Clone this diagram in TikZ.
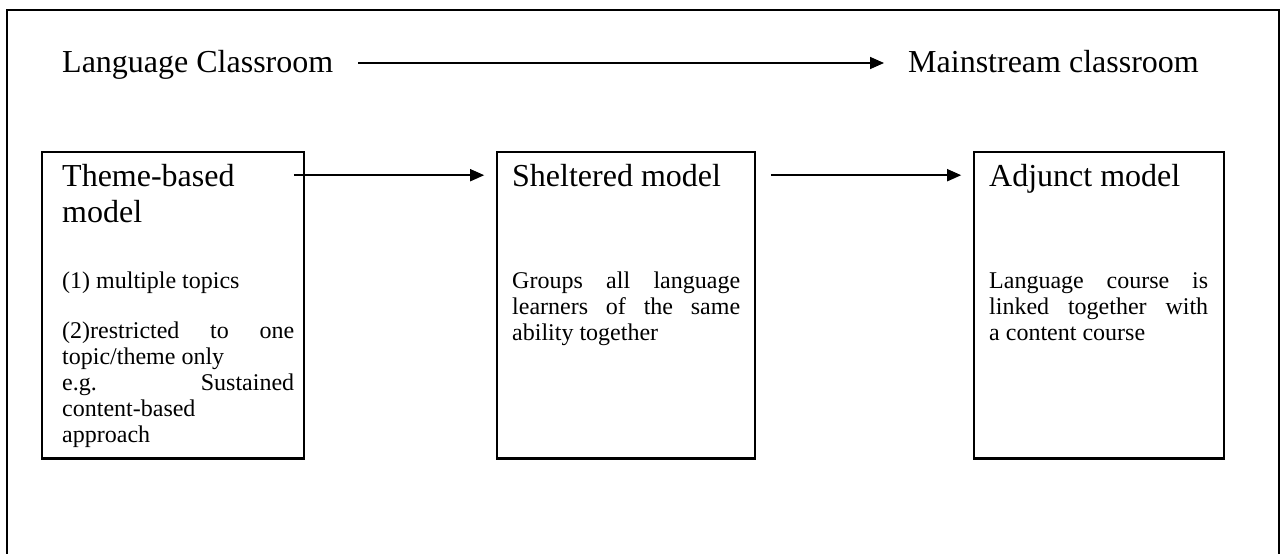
\documentclass[tikz,border=0pt]{standalone}
\usepackage{fontspec}
\setmainfont{Liberation Serif}
\usetikzlibrary{arrows.meta}
\newcommand\bigtxt{\fontsize{32}{36}\selectfont}
\newcommand\smtxt{\fontsize{24}{26}\selectfont}
\newcommand\lineJ[1]{\hbox to \hsize{#1}}
\newcommand\lineL[1]{\hbox{#1}}
\begin{document}
\begin{tikzpicture}[x=1pt,y=-1pt,
  tbox/.style={draw, line width=1.6pt, minimum height=306pt, inner sep=0pt},
  txt/.style={anchor=base west, inner sep=0pt},
  bigt/.style={anchor=base west, inner sep=0pt, font=\bigtxt, text height=21pt, text depth=3pt},
  arr/.style={line width=1.6pt, -{Triangle[length=14pt,width=12pt]}},
  frame/.style={line width=1.8pt}]
\useasboundingbox (0,0) rectangle (1285,554);
% outer frame
\draw[frame] (7,570) -- (7,10) -- (1279,10) -- (1279,570);
% top row
\node[bigt] (lc) at (62,72) {Language Classroom};
\node[bigt] (mc) at (908,72) {Mainstream classroom};
\draw[arr] ([xshift=25pt]lc.east) -- ([xshift=-24pt]mc.west);
% boxes
\node[tbox, minimum width=262pt] (b1) at (173,305) {};
\node[tbox, minimum width=258pt] (b2) at (626,305) {};
\node[tbox, minimum width=250pt] (b3) at (1099,305) {};
\draw[line width=2.6pt] (b1.south west) -- (b1.south east);
\draw[line width=2.6pt] (b2.south west) -- (b2.south east);
\draw[line width=2.6pt] (b3.south west) -- (b3.south east);
% titles
\node[txt] (t1) at (62,186) {\vtop{\bigtxt\lineL{Theme-based}\lineL{model}}};
\node[txt] (t2) at (512,186) {\bigtxt Sheltered model};
\node[txt] (t3) at (989,186) {\bigtxt Adjunct model};
% bodies
\node[txt] (d1) at (62,288) {\vtop{\smtxt\hsize=232pt
  \lineL{(1) multiple topics}\vskip 24pt
  \lineJ{(2)restricted to one}
  \lineL{topic/theme only}
  \lineJ{e.g. Sustained}
  \lineL{content-based}
  \lineL{approach}}};
\node[txt] (d2) at (512,288) {\vtop{\smtxt\hsize=228pt
  \lineJ{Groups all language}
  \lineJ{learners of the same}
  \lineL{ability together}}};
\node[txt] (d3) at (989,288) {\vtop{\smtxt\hsize=219pt
  \lineJ{Language course is}
  \lineJ{linked together with}
  \lineL{a content course}}};
% connectors
\draw[arr] ([xshift=-11pt,yshift=-24pt]b1.north east) -- ([xshift=-12pt,yshift=-24pt]b2.north west);
\draw[arr] ([xshift=15pt,yshift=-24pt]b2.north east) -- ([xshift=-12pt,yshift=-24pt]b3.north west);
\end{tikzpicture}
\end{document}
